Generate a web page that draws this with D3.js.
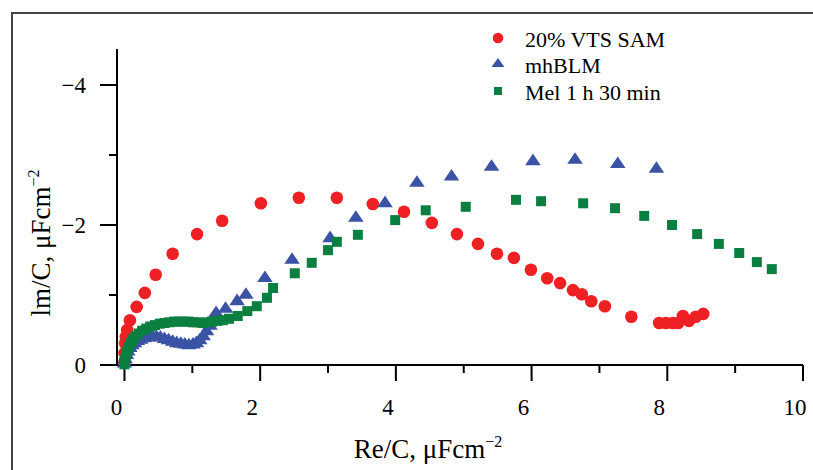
<!DOCTYPE html>
<html><head><meta charset="utf-8">
<script src="https://cdn.jsdelivr.net/npm/d3@7"></script>
<style>
html,body{margin:0;padding:0;background:#fff;}
svg{display:block;font-family:"Liberation Serif","Times New Roman",serif;}
</style></head>
<body><svg id="c" width="813" height="470"></svg>
<script>
// ---- data (Re/C and Im/C, µF cm^-2) ----
const seriesNames = ["20% VTS SAM", "mhBLM", "Mel 1 h 30 min"];
const vtsRe = [0.00,0.00,0.01,0.02,0.04,0.08,0.18,0.30,0.46,0.71,1.07,1.44,2.01,2.57,3.13,3.66,4.12,4.53,4.90,5.21,5.49,5.74,5.99,6.23,6.42,6.61,6.74,6.88,7.08,7.47,7.88,7.98,8.08,8.16,8.23,8.32,8.42,8.53];
const vtsIm = [-0.04,-0.17,-0.31,-0.40,-0.50,-0.64,-0.83,-1.03,-1.29,-1.59,-1.87,-2.06,-2.31,-2.39,-2.39,-2.30,-2.19,-2.03,-1.87,-1.73,-1.59,-1.53,-1.36,-1.24,-1.17,-1.07,-1.01,-0.91,-0.84,-0.69,-0.60,-0.60,-0.60,-0.60,-0.70,-0.63,-0.69,-0.73];
const blmRe = [0.00,0.01,0.03,0.05,0.08,0.11,0.15,0.19,0.24,0.29,0.35,0.41,0.47,0.53,0.59,0.65,0.71,0.77,0.83,0.89,0.95,1.01,1.06,1.11,1.16,1.21,1.26,1.30,1.35,1.49,1.66,1.79,2.07,2.47,3.03,3.41,3.84,4.31,4.82,5.41,6.02,6.64,7.27,7.84];
const blmIm = [-0.02,-0.08,-0.14,-0.19,-0.24,-0.28,-0.31,-0.34,-0.36,-0.38,-0.39,-0.40,-0.40,-0.39,-0.37,-0.35,-0.33,-0.31,-0.30,-0.29,-0.28,-0.29,-0.31,-0.35,-0.41,-0.48,-0.56,-0.64,-0.74,-0.80,-0.91,-1.00,-1.24,-1.50,-1.81,-2.10,-2.31,-2.60,-2.69,-2.83,-2.91,-2.93,-2.87,-2.80];
const melRe = [0.00,0.01,0.02,0.04,0.06,0.09,0.12,0.16,0.21,0.26,0.32,0.38,0.45,0.52,0.59,0.66,0.73,0.80,0.87,0.94,1.01,1.08,1.15,1.22,1.29,1.37,1.45,1.54,1.67,1.81,1.95,2.10,2.19,2.51,2.76,3.00,3.13,3.44,3.99,4.44,5.03,5.77,6.14,6.76,7.23,7.66,8.07,8.44,8.76,9.06,9.32,9.54];
const melIm = [-0.01,-0.07,-0.13,-0.19,-0.25,-0.31,-0.36,-0.41,-0.45,-0.49,-0.52,-0.55,-0.57,-0.59,-0.60,-0.61,-0.62,-0.62,-0.62,-0.62,-0.61,-0.61,-0.60,-0.61,-0.62,-0.63,-0.64,-0.66,-0.70,-0.77,-0.84,-0.96,-1.10,-1.31,-1.46,-1.64,-1.76,-1.86,-2.07,-2.21,-2.26,-2.36,-2.34,-2.31,-2.24,-2.13,-2.00,-1.87,-1.73,-1.60,-1.47,-1.37];
const xTicks = [0,1,2,3,4,5,6,7,8,9,10];
const xTickLabels = ["0","","2","","4","","6","","8","","10"];
const yTicks = [0,-1,-2,-3,-4];
const yTickLabels = ["0","","\u22122","","\u22124"];

const colors = ["#ee2024","#3a53a4","#0b7f3f"];

const svg = d3.select("#c");
// outer frame
svg.append("rect").attr("x",12).attr("y",13).attr("width",900).attr("height",600)
  .attr("fill","none").attr("stroke","#444").attr("stroke-width",2);

const x = d3.scaleLinear().domain([-0.11,10]).range([117,803]);
const y = d3.scaleLinear().domain([0,-4]).range([365,85]);
const yTop = y(-4.514);

// x axis
const xAx = svg.append("g").attr("transform","translate(0,365)");
xAx.append("line").attr("x1",x(-0.11)).attr("x2",x(10)).attr("stroke","#000").attr("stroke-width",2);
xAx.selectAll("line.t").data(xTicks).join("line").attr("class","t")
  .attr("x1",d=>x(d)).attr("x2",d=>x(d)).attr("y1",0).attr("y2",(d,i)=>xTickLabels[i]?16:8)
  .attr("stroke","#000").attr("stroke-width",2);
xAx.selectAll("text").data(xTicks).join("text")
  .attr("x",d=>x(d)-8).attr("y",50).attr("text-anchor","middle")
  .attr("font-size",23).text((d,i)=>xTickLabels[i]);

// y axis
const yAx = svg.append("g").attr("transform","translate(117,0)");
yAx.append("line").attr("y1",yTop).attr("y2",y(0)).attr("stroke","#000").attr("stroke-width",2);
yAx.selectAll("line.t").data(yTicks).join("line").attr("class","t")
  .attr("y1",d=>y(d)).attr("y2",d=>y(d)).attr("x1",0).attr("x2",(d,i)=>yTickLabels[i]?-17:-8)
  .attr("stroke","#000").attr("stroke-width",2);
yAx.selectAll("text").data(yTicks).join("text")
  .attr("x",-31).attr("y",d=>y(d)+8).attr("text-anchor","end")
  .attr("font-size",23).text((d,i)=>yTickLabels[i]);

// axis titles
const xt = svg.append("text").attr("x",428).attr("y",458).attr("text-anchor","middle").attr("font-size",27);
xt.append("tspan").text("Re/C, \u03bcFcm");
xt.append("tspan").attr("font-size",16).attr("dy",-11).text("\u22122");
const yt = svg.append("text").attr("transform","translate(50,243) rotate(-90)").attr("text-anchor","middle").attr("font-size",27);
yt.append("tspan").text("lm/C, \u03bcFcm");
yt.append("tspan").attr("font-size",16).attr("dy",-11).text("\u22122");

// data
const toPts = (xs,ys)=>xs.map((v,i)=>[v,ys[i]]);
const plot = svg.append("g");
plot.selectAll("circle").data(toPts(vtsRe,vtsIm)).join("circle")
  .attr("cx",d=>x(d[0])).attr("cy",d=>y(d[1])).attr("r",6.3).attr("fill",colors[0]);
const tri = d3.symbol().type(d3.symbolTriangle).size(95);
plot.selectAll("path.b").data(toPts(blmRe,blmIm)).join("path").attr("class","b")
  .attr("d",tri).attr("transform",d=>`translate(${x(d[0])},${y(d[1])}) scale(1.05,0.9)`).attr("fill",colors[1]);
const sq = d3.symbol().type(d3.symbolSquare).size(100);
plot.selectAll("path.g").data(toPts(melRe,melIm)).join("path").attr("class","g")
  .attr("d",sq).attr("transform",d=>`translate(${x(d[0])},${y(d[1])})`).attr("fill",colors[2]);

// legend
const lg = svg.append("g");
const lgY = [38,64,91];
lg.append("circle").attr("cx",498).attr("cy",lgY[0]).attr("r",5.3).attr("fill",colors[0]);
lg.append("path").attr("d",d3.symbol().type(d3.symbolTriangle).size(60))
  .attr("transform",`translate(498,${lgY[1]}) scale(1.1,0.9)`).attr("fill",colors[1]);
lg.append("path").attr("d",d3.symbol().type(d3.symbolSquare).size(64))
  .attr("transform",`translate(498,${lgY[2]})`).attr("fill",colors[2]);
lg.selectAll("text").data(seriesNames).join("text")
  .attr("x",525).attr("y",(d,i)=>lgY[i]+9).attr("font-size",22).text(d=>d);
</script></body></html>
